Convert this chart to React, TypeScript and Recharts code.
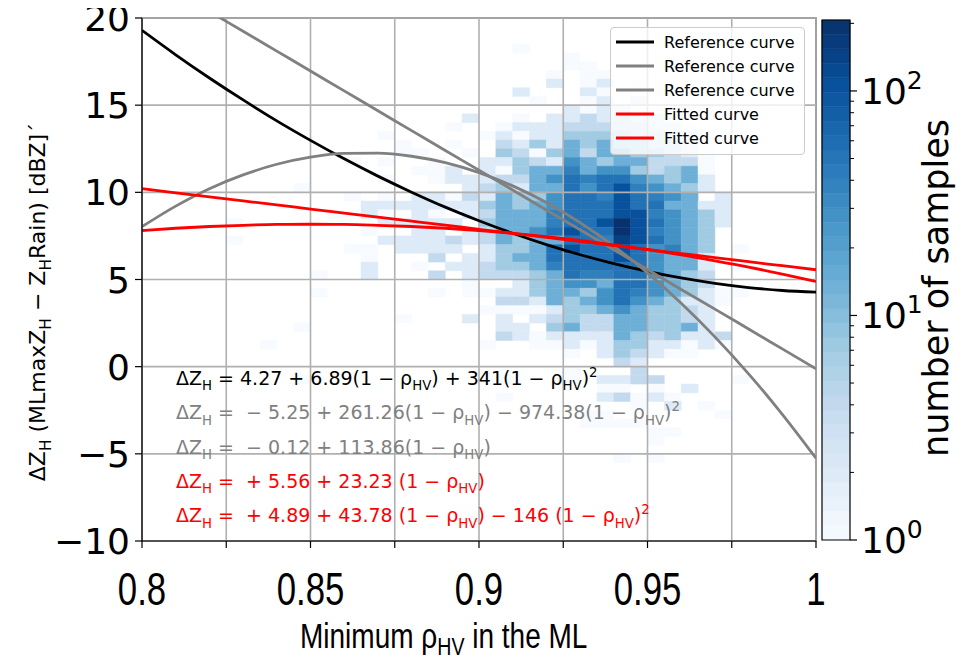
import React from 'react';
import { ComposedChart, Line, XAxis, YAxis, ReferenceArea, ReferenceLine, Legend } from 'recharts';

// ---------- curve data ----------
const RHO_HV = [0.8, 0.81, 0.82, 0.83, 0.84, 0.85, 0.86, 0.87, 0.88, 0.89, 0.9, 0.91, 0.92, 0.93, 0.94, 0.95, 0.96, 0.97, 0.98, 0.99, 1.0];
const REF_BLACK = [19.29, 17.89, 16.56, 15.3, 14.1, 12.98, 11.92, 10.93, 10.01, 9.15, 8.37, 7.65, 7.0, 6.42, 5.91, 5.47, 5.09, 4.78, 4.54, 4.37, 4.27];
const REF_GRAY_QUAD = [8.03, 9.21, 10.21, 11.0, 11.61, 12.02, 12.23, 12.25, 12.07, 11.7, 11.13, 10.37, 9.42, 8.26, 6.92, 5.38, 3.64, 1.71, -0.41, -2.73, -5.25];
const REF_GRAY_LIN = [22.65, 21.51, 20.37, 19.24, 18.1, 16.96, 15.82, 14.68, 13.54, 12.4, 11.27, 10.13, 8.99, 7.85, 6.71, 5.57, 4.43, 3.3, 2.16, 1.02, -0.12];
const FIT_LIN = [10.21, 9.97, 9.74, 9.51, 9.28, 9.04, 8.81, 8.58, 8.35, 8.12, 7.88, 7.65, 7.42, 7.19, 6.95, 6.72, 6.49, 6.26, 6.02, 5.79, 5.56];
const FIT_QUAD = [7.81, 7.94, 8.04, 8.11, 8.16, 8.17, 8.16, 8.11, 8.04, 7.94, 7.81, 7.65, 7.46, 7.24, 6.99, 6.71, 6.41, 6.07, 5.71, 5.31, 4.89];

const SERIES_KEYS = ['refBlack', 'refGrayQuad', 'refGrayLin', 'fitLin', 'fitQuad'];
const SERIES_COLORS = ['#000000', '#808080', '#808080', '#ff0000', '#ff0000'];
const LEGEND_LABELS = ['Reference curve', 'Reference curve', 'Reference curve', 'Fitted curve', 'Fitted curve'];

// ---------- axes ----------
const X_TICKS = [0.8, 0.825, 0.85, 0.875, 0.9, 0.925, 0.95, 0.975, 1.0];
const X_TICK_LABELS = ['0.8', '', '0.85', '', '0.9', '', '0.95', '', '1'];
const Y_TICKS = [-10, -5, 0, 5, 10, 15, 20];
const CB_MAJOR = [1, 10, 100];
const CB_MINOR = [2, 3, 4, 5, 6, 7, 8, 9, 20, 30, 40, 50, 60, 70, 80, 90, 200];
const COUNT_MAX = 207;

// ---------- 2-D histogram (bins 0.005 x 0.5 dB, rows from y=20 downward) ----------
const HIST_X0 = 0.8;
const HIST_DX = 0.005;
const HIST_Y0 = 20;
const HIST_DY = 0.5;
const LEVEL_COUNTS: Record<string, number> = { '1': 1, '2': 2, '3': 4, '4': 7, '5': 14, '6': 28, '7': 40, '8': 54, '9': 106, A: 150, B: 200 };
const HIST_ROWS = [
  '..........|..........|..........|..........',
  '..........|..........|..........|..........',
  '..........|..........|..........|..........',
  '..........|..........|..1.......|..........',
  '..........|..........|.....1....|..........',
  '..........|..........|.....11...|..........',
  '..........|..........|....1.11..|..........',
  '..........|..........|....2.12.1|..........',
  '..........|..........|..2...211.|1.........',
  '..........|..........|...1..12.2|.1........',
  '..........|..........|.....2122.|1.1.......',
  '..........|.........2|..1.223232|21........',
  '..........|........1.|.122233333|221.......',
  '..........|....1.....|1212244443|3221......',
  '..........|.....1..1.|.324254544|3321......',
  '..........|.....11..1|.431453554|4321......',
  '..........|..1.1..1..|2243265455|3331......',
  '..........|......112.|2145575664|3451......',
  '..........|....1..122|2335687886|5452......',
  '.........1|.........2|3425586897|6542......',
  '..........|..1.1.2213|2544688798|765.2.....',
  '..........|...2222222|4545688898|85522.....',
  '..........|.1.21.21.2|3555788899|76542.....',
  '.....1....|....22222.|45557889B9|86542.....',
  '..........|...1..22.2|35568988B9|7654......',
  '.....1....|....222232|35455887A9|8654......',
  '..........|..11.2222.|2445898898|6754.1....',
  '..........|...1...3.2|2455888898|6552......',
  '..........|...2..1.22|3445788888|6552.1....',
  '..........|1..2...3.2|3334587788|6543......',
  '..........|.........1|..24566588|6543......',
  '..........|1......1.1|1224554687|654211....',
  '..........|..........|.332545686|54221.....',
  '..........|..........|1111244565|4432......',
  '..........|.....1...2|.2.2343355|4432......',
  '.........1|..........|.22.453355|4452......',
  '..........|..........|.321222254|34223.....',
  '.......1..|..........|1..1121244|22121.....',
  '..........|..........|.....1.243|211.......',
  '..........|..........|........32|..........',
  '..........|..........|.....1...3|..........',
  '.........1|..........|.1...1.223|3....1....',
  '..........|..........|.......11.|1.2.......',
  '..........|..........|.1.....231|21........',
  '..........|..........|.........1|.2.1......',
  '..........|..........|......11..|....1.....',
  '..........|..........|......1111|..........',
  '..........|..........|..........|11........',
  '..........|..........|..........|1.........',
  '..........|..........|..........|..........',
  '..........|..........|........1.|1.........',
];

// matplotlib "Blues" colormap stops
const BLUES = ['#f7fbff', '#deebf7', '#c6dbef', '#9ecae1', '#6baed6', '#4292c6', '#2171b5', '#08519c', '#08306b'];

function hexToRgb(h: string) {
  return [parseInt(h.slice(1, 3), 16), parseInt(h.slice(3, 5), 16), parseInt(h.slice(5, 7), 16)];
}
function blues(t: number) {
  const tt = Math.max(0, Math.min(1, t)) * (BLUES.length - 1);
  const i = Math.min(BLUES.length - 2, Math.floor(tt));
  const f = tt - i;
  const a = hexToRgb(BLUES[i]);
  const b = hexToRgb(BLUES[i + 1]);
  const c = a.map((v, k) => Math.round(v + (b[k] - v) * f));
  return `rgb(${c[0]},${c[1]},${c[2]})`;
}
function countColor(n: number) {
  return blues(Math.log(n) / Math.log(COUNT_MAX));
}

const curveData = RHO_HV.map((r, i) => ({
  rho: r,
  refBlack: REF_BLACK[i],
  refGrayQuad: REF_GRAY_QUAD[i],
  refGrayLin: REF_GRAY_LIN[i],
  fitLin: FIT_LIN[i],
  fitQuad: FIT_QUAD[i],
}));

type Cell = { x1: number; x2: number; y1: number; y2: number; color: string };
const cells: Cell[] = [];
HIST_ROWS.forEach((row, r) => {
  row
    .replace(/\|/g, '')
    .split('')
    .forEach((ch, k) => {
      const n = LEVEL_COUNTS[ch];
      if (!n) return;
      cells.push({
        x1: HIST_X0 + k * HIST_DX,
        x2: HIST_X0 + (k + 1) * HIST_DX,
        y1: HIST_Y0 - (r + 1) * HIST_DY,
        y2: HIST_Y0 - r * HIST_DY,
        color: countColor(n),
      });
    });
});

const CB_BANDS = 36;
const cbBands = Array.from({ length: CB_BANDS }, (_, i) => ({
  y1: Math.pow(COUNT_MAX, i / CB_BANDS),
  y2: Math.pow(COUNT_MAX, (i + 1) / CB_BANDS),
  color: blues((i + 0.5) / CB_BANDS),
}));

// ---------- equations ----------
const EQUATIONS = [
  { text: 'ΔZ_{H} = 4.27 + 6.89(1 − ρ_{HV}) + 341(1 − ρ_{HV})^{2}', color: '#000000' },
  { text: 'ΔZ_{H} =  − 5.25 + 261.26(1 − ρ_{HV}) − 974.38(1 − ρ_{HV})^{2}', color: '#808080' },
  { text: 'ΔZ_{H} =  − 0.12 + 113.86(1 − ρ_{HV})', color: '#808080' },
  { text: 'ΔZ_{H} =  + 5.56 + 23.23 (1 − ρ_{HV})', color: '#ff0000' },
  { text: 'ΔZ_{H} =  + 4.89 + 43.78 (1 − ρ_{HV}) − 146 (1 − ρ_{HV})^{2}', color: '#ff0000' },
];

const SANS = "'DejaVu Sans', sans-serif";
const ARIAL = "'Liberation Sans', Arial, sans-serif";
const NARROW_X = 0.74;

function MathText(props: { x: number; y: number; text: string; fontSize: number; fill: string; family: string; anchor?: string; transform?: string; sub?: number }) {
  const { x, y, text, fontSize, fill, family, anchor, transform } = props;
  const subShift = props.sub ?? 0.28;
  const parts = text.split(/(_\{[^}]*\}|\^\{[^}]*\})/).filter((p) => p.length > 0);
  let cur = 0;
  const spans = parts.map((p, i) => {
    let target = 0;
    let content = p;
    let fs = fontSize;
    if (p.startsWith('_{')) {
      target = fontSize * subShift;
      content = p.slice(2, -1);
      fs = fontSize * 0.7;
    } else if (p.startsWith('^{')) {
      target = -fontSize * 0.42;
      content = p.slice(2, -1);
      fs = fontSize * 0.7;
    }
    const dy = target - cur;
    cur = target;
    return (
      <tspan key={i} dy={dy} fontSize={fs}>
        {content}
      </tspan>
    );
  });
  return (
    <text x={x} y={y} fill={fill} fontSize={fontSize} fontFamily={family} textAnchor={anchor || 'start'} transform={transform} style={{ whiteSpace: 'pre' }}>
      {spans}
    </text>
  );
}

const XTick = (props: any) => {
  const { x, y, payload } = props;
  const idx = X_TICKS.findIndex((t) => Math.abs(t - payload.value) < 1e-9);
  const label = idx >= 0 ? X_TICK_LABELS[idx] : '';
  return (
    <text x={0} y={0} transform={`translate(${x} ${y + 55}) scale(${NARROW_X} 1)`} textAnchor="middle" fontSize={47} fontFamily={ARIAL} fill="#000">
      {label}
    </text>
  );
};

const YTick = (props: any) => {
  const { x, y, payload } = props;
  const v = payload.value as number;
  const label = v < 0 ? '\u2212' + Math.abs(v) : String(v);
  return (
    <text x={x} y={y} dy={13} textAnchor="end" fontSize={36} fontFamily={SANS} fill="#000">
      {label}
    </text>
  );
};

const SUPS: Record<number, string> = { 0: '0', 1: '1', 2: '2' };
const CbTick = (props: any) => {
  const { x, y, payload } = props;
  const v = payload.value as number;
  const major = CB_MAJOR.includes(v);
  if (!major) {
    return <line x1={x} x2={x + 4} y1={y} y2={y} stroke="#000" strokeWidth={1} />;
  }
  const e = Math.round(Math.log10(v));
  return (
    <g>
      <line x1={x} x2={x + 7} y1={y} y2={y} stroke="#000" strokeWidth={1.2} />
      <text x={x + 11} y={y} dy={13} fontSize={36} fontFamily={SANS} fill="#000">
        <tspan>10</tspan>
        <tspan dy={-15} fontSize={25}>
          {SUPS[e]}
        </tspan>
      </text>
    </g>
  );
};

const LegendBox = () => (
  <div
    style={{
      width: 195,
      height: 128,
      background: 'rgba(255,255,255,0.8)',
      border: '1px solid #cccccc',
      borderRadius: 4,
      boxSizing: 'border-box',
      paddingTop: 2,
      paddingLeft: 5,
      fontFamily: SANS,
      fontSize: 16,
      color: '#000',
    }}
  >
    {LEGEND_LABELS.map((l, i) => (
      <div key={i} style={{ display: 'flex', alignItems: 'center', height: 24 }}>
        <svg width={38} height={6} style={{ display: 'block' }}>
          <line x1={0} x2={38} y1={3} y2={3} stroke={SERIES_COLORS[i]} strokeWidth={2.8} />
        </svg>
        <span style={{ marginLeft: 10, whiteSpace: 'nowrap' }}>{l}</span>
      </div>
    ))}
  </div>
);

export default function App() {
  return (
    <div style={{ position: 'relative', width: 969, height: 660, margin: '-8px 0 0 -8px', background: '#fff' }}>
      <div style={{ position: 'absolute', left: 0, top: 0 }}>
        <ComposedChart width={969} height={660} data={curveData} margin={{ top: 18, right: 153, bottom: 59, left: 62 }}>
          <XAxis
            type="number"
            dataKey="rho"
            domain={[0.8, 1]}
            ticks={X_TICKS}
            interval={0}
            allowDataOverflow
            height={60}
            tick={<XTick />}
            tickSize={7}
            tickMargin={2}
            tickLine={{ stroke: '#000', strokeWidth: 1.2 }}
            axisLine={{ stroke: '#000', strokeWidth: 1.2 }}
          />
          <YAxis
            type="number"
            domain={[-10, 20]}
            ticks={Y_TICKS}
            interval={0}
            allowDataOverflow
            width={80}
            tick={<YTick />}
            tickSize={7}
            tickMargin={5}
            tickLine={{ stroke: '#000', strokeWidth: 1.2 }}
            axisLine={{ stroke: '#000', strokeWidth: 1.2 }}
          />
          {cells.map((c, i) => (
            <ReferenceArea key={'c' + i} x1={c.x1} x2={c.x2} y1={c.y1} y2={c.y2} fill={c.color} fillOpacity={1} stroke={c.color} strokeWidth={0.5} />
          ))}
          {X_TICKS.map((t) => (
            <ReferenceLine key={'gx' + t} x={t} stroke="#b0b0b0" strokeWidth={1.6} />
          ))}
          {Y_TICKS.map((t) => (
            <ReferenceLine key={'gy' + t} y={t} stroke="#b0b0b0" strokeWidth={1.6} />
          ))}
          <ReferenceArea x1={0.8} x2={1} y1={-10} y2={20} fill="none" stroke="#000" strokeWidth={1.2} />
          {SERIES_KEYS.map((k, i) => (
            <Line key={k} dataKey={k} type="monotone" stroke={SERIES_COLORS[i]} strokeWidth={2.8} dot={false} activeDot={false} isAnimationActive={false} />
          ))}
          <Legend layout="vertical" align="center" verticalAlign="middle" content={<LegendBox />} wrapperStyle={{ left: 610, top: 27, width: 195 }} />
        </ComposedChart>
      </div>
      <div style={{ position: 'absolute', left: 0, top: 0 }}>
        <ComposedChart width={969} height={660} data={[{ x: 0 }, { x: 1 }]} margin={{ top: 20, right: 59, bottom: 120, left: 822 }}>
          <XAxis type="number" dataKey="x" domain={[0, 1]} hide />
          <YAxis
            yAxisId="cb"
            orientation="right"
            scale="log"
            type="number"
            domain={[1, COUNT_MAX]}
            allowDataOverflow
            ticks={[...CB_MAJOR, ...CB_MINOR]}
            interval={0}
            width={60}
            tick={<CbTick />}
            tickLine={false}
            tickSize={0}
            tickMargin={0}
            axisLine={false}
          />
          {cbBands.map((b, i) => (
            <ReferenceArea key={'b' + i} yAxisId="cb" x1={0} x2={1} y1={b.y1} y2={b.y2} fill={b.color} fillOpacity={1} stroke={b.color} strokeWidth={0.5} />
          ))}
          <ReferenceArea yAxisId="cb" x1={0} x2={1} y1={1} y2={COUNT_MAX} fill="none" stroke="#000" strokeWidth={1.2} />
        </ComposedChart>
      </div>
      <svg width={969} height={660} style={{ position: 'absolute', left: 0, top: 0, pointerEvents: 'none' }}>
        {EQUATIONS.map((e, i) => (
          <MathText key={i} x={176} y={385 + i * 34.3} text={e.text} fontSize={19} fill={e.color} family={SANS} />
        ))}
        <MathText x={0} y={0} transform={`translate(300 648) scale(${NARROW_X + 0.06} 1)`} text="Minimum ρ_{HV} in the ML" fontSize={35} fill="#000" family={ARIAL} sub={0.2} />
        <MathText x={45} y={302} text="ΔZ_{H} (MLmaxZ_{H} − Z_{H}Rain) [dBZ]´" fontSize={22} fill="#000" family={SANS} anchor="middle" transform="rotate(-90 45 302)" />
        <text x={948} y={288} fontSize={35} fontFamily={SANS} fill="#000" textAnchor="middle" transform="rotate(-90 948 288)">
          number of samples
        </text>
      </svg>
    </div>
  );
}
